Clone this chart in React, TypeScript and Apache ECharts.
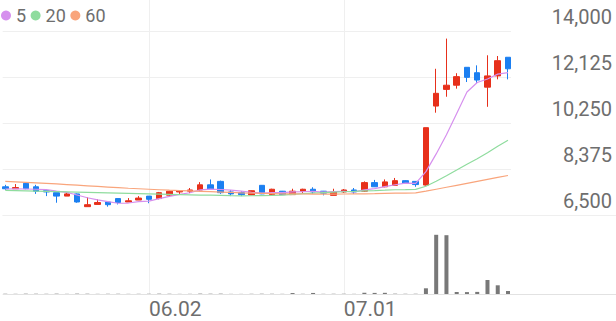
import React, { useEffect, useRef } from 'react';
import * as echarts from 'echarts';

const dates = [
  '05.13', '05.14', '05.15', '05.16', '05.19', '05.20', '05.21', '05.22', '05.23', '05.26',
  '05.27', '05.28', '05.29', '05.30', '06.02', '06.04', '06.05', '06.09', '06.10', '06.11',
  '06.12', '06.13', '06.16', '06.17', '06.18', '06.19', '06.20', '06.23', '06.24', '06.25',
  '06.26', '06.27', '06.30', '07.01', '07.02', '07.03', '07.04', '07.07', '07.08', '07.09',
  '07.10', '07.11', '07.14', '07.15', '07.16', '07.17', '07.18', '07.21', '07.22', '07.23',
];

const opens = [
  7650, 7570, 7790, 7650, 7490, 7410, 7270, 7360, 6840, 6930,
  7030, 7170, 7030, 7110, 7270, 7170, 7310, 7440, 7470, 7520,
  7730, 7870, 7440, 7410, 7320, 7710, 7330, 7470, 7330, 7470,
  7550, 7470, 7300, 7440, 7520, 7470, 7820, 7650, 7710, 7900,
  7870, 7720, 10940, 11620, 11790, 12520, 12300, 11710, 12170, 12930,
];
const closes = [
  7570, 7620, 7570, 7470, 7440, 7270, 7360, 7030, 6920, 7010,
  6920, 7010, 7080, 7190, 7140, 7410, 7470, 7490, 7520, 7730,
  7550, 7410, 7360, 7330, 7490, 7360, 7550, 7330, 7470, 7550,
  7440, 7390, 7440, 7520, 7440, 7820, 7650, 7850, 7900, 7790,
  7740, 10060, 11460, 11790, 12140, 12110, 12000, 12170, 12790, 12460,
];
const lows = [
  7520, 7560, 7550, 7360, 7270, 7000, 7270, 7000, 6840, 6930,
  6840, 6930, 7030, 7110, 6980, 7140, 7270, 7330, 7390, 7490,
  7540, 7360, 7270, 7270, 7310, 7350, 7310, 7320, 7330, 7390,
  7360, 7300, 7300, 7400, 7360, 7440, 7640, 7630, 7700, 7780,
  7650, 7700, 10670, 11320, 11650, 11920, 11870, 10910, 12030, 12030,
];
const highs = [
  7730, 7760, 7800, 7730, 7490, 7410, 7440, 7380, 7220, 7140,
  7030, 7170, 7190, 7270, 7270, 7440, 7490, 7500, 7600, 7840,
  7950, 7900, 7520, 7470, 7500, 7720, 7570, 7480, 7570, 7570,
  7630, 7480, 7570, 7560, 7600, 7870, 7930, 7950, 8010, 7920,
  7880, 10060, 12460, 13690, 12280, 12520, 12600, 13010, 12980, 12930,
];
const volumes = [
  26000, 18000, 31000, 27000, 21000, 33000, 17000, 36000, 29000, 16000,
  22000, 24000, 15000, 19000, 23000, 34000, 26000, 14000, 17000, 38000,
  30000, 35000, 13000, 12000, 21000, 28000, 24000, 16000, 95000, 20000,
  105000, 18000, 23000, 25000, 15000, 125000, 110000, 118000, 32000, 22000,
  25000, 570000, 5920000, 5880000, 200000, 190000, 210000, 1400000, 870000, 300000,
];
const ma5 = [
  7560, 7570, 7560, 7550, 7534, 7474, 7422, 7314, 7204, 7118,
  7048, 6978, 6988, 7042, 7068, 7166, 7258, 7340, 7406, 7524,
  7552, 7540, 7514, 7476, 7428, 7390, 7418, 7412, 7440, 7452,
  7468, 7436, 7458, 7468, 7446, 7522, 7574, 7656, 7732, 7802,
  7786, 8268, 8990, 9768, 10638, 11512, 11900, 12042, 12242, 12306,
];
const ma20 = [
  7500, 7490, 7480, 7470, 7460, 7450, 7440, 7430, 7420, 7410,
  7400, 7390, 7380, 7370, 7360, 7350, 7340, 7330, 7320, 7311,
  7310, 7300, 7289, 7282, 7285, 7289, 7299, 7314, 7341, 7368,
  7394, 7413, 7431, 7448, 7463, 7483, 7492, 7510, 7529, 7532,
  7542, 7674, 7879, 8102, 8335, 8572, 8795, 9037, 9303, 9548,
];
const ma60 = [
  7870, 7850, 7830, 7810, 7790, 7765, 7740, 7715, 7690, 7665,
  7640, 7615, 7590, 7570, 7550, 7530, 7510, 7495, 7480, 7465,
  7450, 7435, 7420, 7405, 7395, 7385, 7375, 7365, 7360, 7355,
  7350, 7350, 7350, 7355, 7360, 7365, 7370, 7380, 7390, 7395,
  7400, 7470, 7550, 7630, 7710, 7790, 7870, 7950, 8030, 8110,
];
const priceTicks = [6500, 8375, 10250, 12125, 14000];
const labelDates = ['06.02', '07.01'];
const maNames = ['5', '20', '60'];

const RED = '#e7301b';
const BLUE = '#1b7ff1';
const MA_COLORS = ['#d690ee', '#8fdc9e', '#f9a57c'];
const GRID_COLOR = '#efefef';
const TEXT_COLOR = '#6e6e6e';
const FONT = 'Roboto';

const CL = 5.3;
const CW = 502.7;

export default function App() {
  const ref = useRef<HTMLDivElement>(null);
  useEffect(() => {
    const chart = echarts.init(ref.current!, undefined, { renderer: 'svg' });
    const candleData = dates.map((_, i) => [opens[i], closes[i], lows[i], highs[i]]);
    const maData = [ma5, ma20, ma60];
    chart.setOption({
      animation: false,
      textStyle: { fontFamily: FONT },
      legend: {
        left: 1,
        top: 6.5,
        padding: 0,
        itemWidth: 10,
        itemHeight: 10,
        itemGap: 4.5,
        icon: 'circle',
        data: maNames,
        textStyle: { fontSize: 18, color: TEXT_COLOR, fontFamily: FONT },
      },
      grid: [
        { left: CL, width: CW, top: 0, height: 294 },
        { left: 2.7, width: 508.3, top: 31, height: 184 },
        { left: CL, width: CW, top: 31, height: 184 },
        { left: 2.7, right: 0, top: 215, height: 79 },
        { left: CL, width: CW, top: 215, height: 79 },
      ],
      xAxis: [
        {
          gridIndex: 0, type: 'category', data: dates, boundaryGap: false,
          axisLine: { show: false }, axisTick: { show: false }, axisLabel: { show: false },
          splitLine: {
            show: true,
            interval: (i: number, v: string) => labelDates.includes(v),
            lineStyle: { color: GRID_COLOR, width: 1 },
          },
        },
        { gridIndex: 1, type: 'value', min: 0, max: 1, show: false },
        { gridIndex: 2, type: 'category', data: dates, boundaryGap: false, show: false },
        { gridIndex: 3, type: 'value', min: 0, max: 1, show: false },
        {
          gridIndex: 4, type: 'category', data: dates, boundaryGap: false,
          axisLine: { show: false }, axisTick: { show: false }, splitLine: { show: false },
          axisLabel: {
            interval: (i: number, v: string) => labelDates.includes(v),
            align: 'left',
            margin: 4,
            fontSize: 21,
            color: TEXT_COLOR,
            fontFamily: FONT,
          },
        },
      ],
      yAxis: [
        { gridIndex: 0, type: 'value', show: false, splitLine: { show: false } },
        {
          gridIndex: 1, type: 'value', position: 'right', min: 0, max: priceTicks.length - 1, interval: 1,
          axisLine: { show: false }, axisTick: { show: false },
          splitLine: { show: true, lineStyle: { color: GRID_COLOR, width: 1 } },
          axisLabel: {
            margin: 101,
            align: 'right',
            verticalAlign: 'bottom',
            lineHeight: 28,
            fontSize: 20,
            color: TEXT_COLOR,
            fontFamily: FONT,
            formatter: (v: number) => priceTicks[Math.round(v)].toLocaleString('en-US'),
          },
        },
        { gridIndex: 2, type: 'value', min: priceTicks[0], max: priceTicks[priceTicks.length - 1], show: false, splitLine: { show: false } },
        {
          gridIndex: 3, type: 'value', min: 0, max: 1, interval: 1,
          axisLine: { show: false }, axisTick: { show: false }, axisLabel: { show: false },
          splitLine: { show: true, lineStyle: { color: ['#e2e2e2', GRID_COLOR], width: 1 } },
        },
        { gridIndex: 4, type: 'value', min: 0, max: 7900000, show: false, splitLine: { show: false } },
      ],
      series: [
        {
          type: 'candlestick',
          xAxisIndex: 2,
          yAxisIndex: 2,
          data: candleData,
          barWidth: 6,
          itemStyle: { color: RED, color0: BLUE, borderColor: RED, borderColor0: BLUE, borderWidth: 1 },
        },
        ...maNames.map((name, k) => ({
          name,
          type: 'line',
          xAxisIndex: 2,
          yAxisIndex: 2,
          data: maData[k],
          showSymbol: false,
          symbol: 'none',
          color: MA_COLORS[k],
          lineStyle: { color: MA_COLORS[k], width: 1.2 },
        })),
        {
          type: 'bar',
          xAxisIndex: 4,
          yAxisIndex: 4,
          data: volumes,
          barWidth: 4,
          itemStyle: { color: '#787878' },
        },
      ],
    });
    return () => chart.dispose();
  }, []);
  return <div ref={ref} style={{ position: 'absolute', left: 0, top: 0, width: 616, height: 321 }} />;
}
